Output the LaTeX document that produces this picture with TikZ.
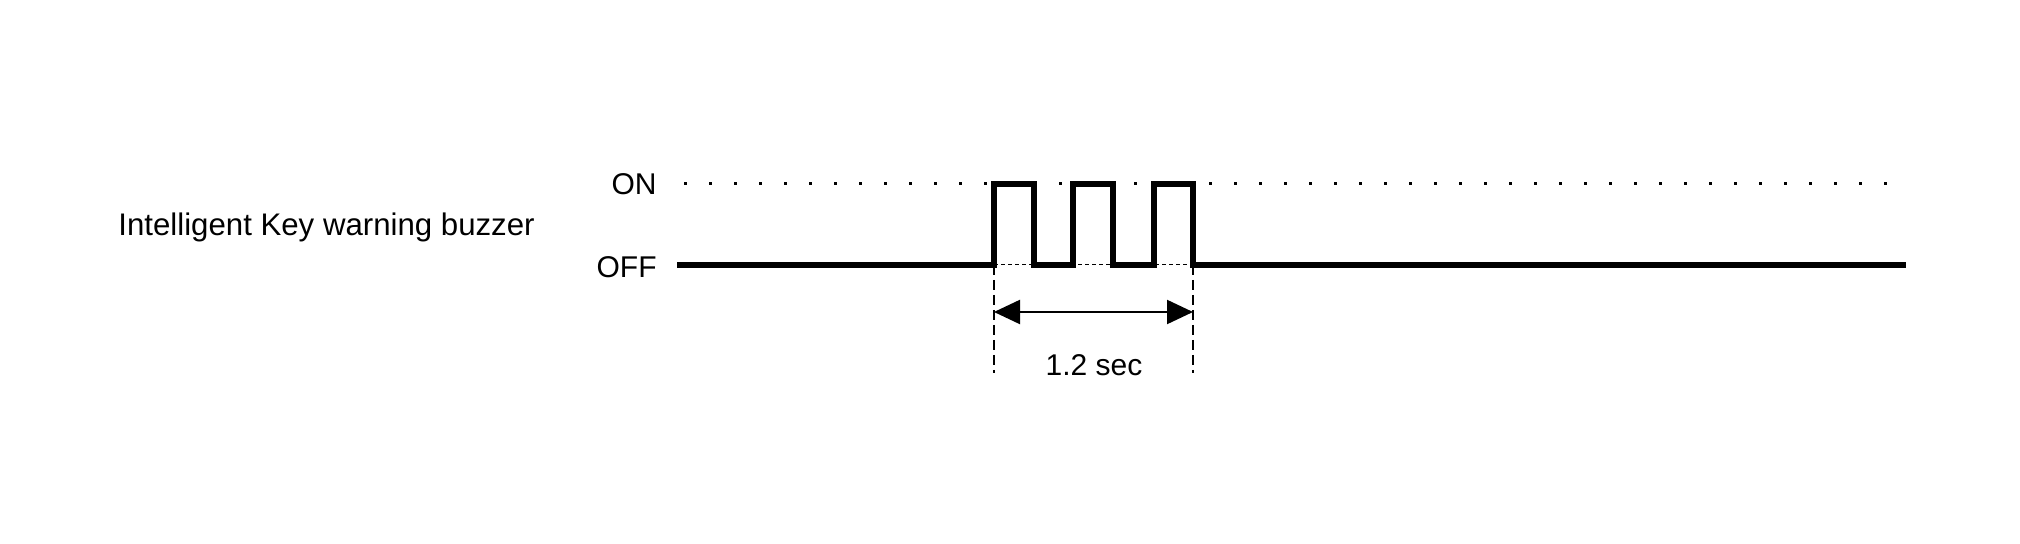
\documentclass[tikz,border=0pt]{standalone}
\usepackage{fontspec}
\setmainfont{Liberation Sans}
\usetikzlibrary{arrows.meta}
\begin{document}
\begin{tikzpicture}[x={(0.5pt,0)},y={(0,-0.5pt)},
  lbl/.style={inner sep=0pt,font=\fontsize{15pt}{18pt}\selectfont},
  biglbl/.style={inner sep=0pt,font=\fontsize{15.6pt}{18pt}\selectfont},
  signal/.style={line width=2.8pt,line join=miter,line cap=butt},
  onlevel/.style={line width=1.5pt,dash pattern=on 1.5pt off 11pt},
  offguide/.style={line width=0.5pt,dash pattern=on 2.2pt off 1.3pt},
  marker/.style={line width=1.1pt,dash pattern=on 5pt off 2.5pt},
  dimarrow/.style={line width=1.1pt,{Triangle[length=13pt,width=12pt]}-{Triangle[length=13pt,width=12pt]}}]
\useasboundingbox (0,0) rectangle (2020,544);
% labels
\node[biglbl,anchor=base west] (name) at (118,236) {Intelligent Key warning buzzer};
\node[lbl,anchor=base east] (on) at (657,195) {ON};
\node[lbl,anchor=base east] (off) at (657,278) {OFF};
\node[lbl,anchor=base] (dur) at (1094,376) {1.2 sec};
% key points
\coordinate (s0) at (677,265);
\coordinate (s9) at (1906,265);
\coordinate (d0) at (684,184);
\coordinate (d9) at (1888,184);
\coordinate (a) at (994,265);
\coordinate (b) at (1193,265);
\coordinate (aL) at (994,373);
\coordinate (bL) at (1193,373);
\coordinate (aA) at (994,312);
\coordinate (bA) at (1193,312);
% guides
\draw[onlevel] (d0) -- (d9);
\draw[offguide] (a) -- (b);
\draw[marker] (a) -- (aL);
\draw[marker] (b) -- (bL);
\draw[dimarrow] (aA) -- (bA);
% signal
\draw[signal] (s0) -- (a) |- (1034,184) |- (1073,265) |- (1113,184) |- (1154,265) |- (1193,184) -- (b) -- (s9);
\end{tikzpicture}
\end{document}
